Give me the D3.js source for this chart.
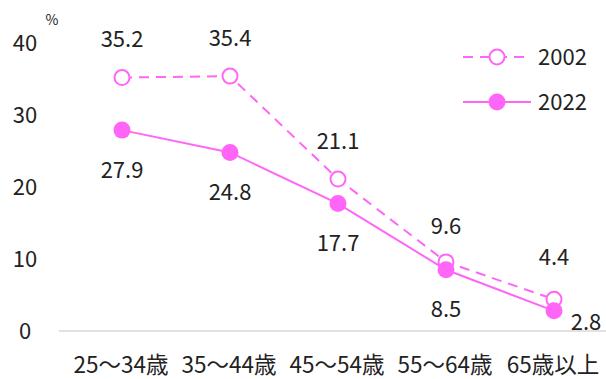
<!DOCTYPE html>
<html><head><meta charset="utf-8">
<script src="https://cdn.jsdelivr.net/npm/d3@7"></script>
<style>body{margin:0;background:#fff;}svg text{font-family:"Noto Sans CJK JP","Noto Sans",sans-serif;fill:#222;}</style>
</head><body><svg id="c" width="606" height="379"></svg>
<script>
const categories = ["25～34歳","35～44歳","45～54歳","55～64歳","65歳以上"];
const series2002 = [35.2, 35.4, 21.1, 9.6, 4.4];
const series2022 = [27.9, 24.8, 17.7, 8.5, 2.8];
const yTicks = [0, 10, 20, 30, 40];
const color = "#ff66f8";

const svg = d3.select("#c");
const x = d3.scalePoint().domain(categories).range([122, 554]);
const y = d3.scaleLinear().domain([0, 40]).range([331, 43]);

// baseline
svg.append("line").attr("x1", 59).attr("x2", 606).attr("y1", y(0)).attr("y2", y(0))
  .attr("stroke", "#d9d9d9").attr("stroke-width", 1.5);

// y tick labels
svg.selectAll(".yt").data(yTicks).enter().append("text")
  .attr("x", 25).attr("y", d => y(d)).attr("dy", "0.36em")
  .attr("text-anchor", "middle").attr("font-size", 22).text(d => d);
svg.append("text").attr("x", 52).attr("y", 25).attr("text-anchor", "middle")
  .attr("font-size", 14).text("%");

// x labels
svg.selectAll(".xt").data(categories).enter().append("text")
  .attr("x", d => x(d) - 1).attr("y", 365).attr("dy", "0.36em")
  .attr("text-anchor", "middle").attr("font-size", 22.5).text(d => d);

const line = d3.line().x((d, i) => x(categories[i])).y(d => y(d));

svg.append("path").datum(series2002).attr("d", line).attr("fill", "none")
  .attr("stroke", color).attr("stroke-width", 2).attr("stroke-dasharray", "10,7");
svg.append("path").datum(series2022).attr("d", line).attr("fill", "none")
  .attr("stroke", color).attr("stroke-width", 2);

svg.selectAll(".p02").data(series2002).enter().append("circle")
  .attr("cx", (d, i) => x(categories[i])).attr("cy", d => y(d)).attr("r", 7.5)
  .attr("fill", "#fff").attr("stroke", color).attr("stroke-width", 2);
svg.selectAll(".p22").data(series2022).enter().append("circle")
  .attr("cx", (d, i) => x(categories[i])).attr("cy", d => y(d)).attr("r", 8.5)
  .attr("fill", color);

// data labels
const off02 = [[0, -38], [0, -38], [0, -38], [0, -36], [0, -42]];
const off22 = [[0, 40], [0, 40], [0, 40], [0, 39], [32, 11]];
svg.selectAll(".l02").data(series2002).enter().append("text")
  .attr("x", (d, i) => x(categories[i]) + off02[i][0]).attr("y", (d, i) => y(d) + off02[i][1])
  .attr("dy", "0.36em").attr("text-anchor", "middle").attr("font-size", 22).text(d => d.toFixed(1));
svg.selectAll(".l22").data(series2022).enter().append("text")
  .attr("x", (d, i) => x(categories[i]) + off22[i][0]).attr("y", (d, i) => y(d) + off22[i][1])
  .attr("dy", "0.36em").attr("text-anchor", "middle").attr("font-size", 22).text(d => d.toFixed(1));

// legend
const lg = [{name: "2002", dash: "10,7", open: true, y: 57}, {name: "2022", dash: null, open: false, y: 102}];
lg.forEach(l => {
  svg.append("line").attr("x1", 463).attr("x2", 531).attr("y1", l.y).attr("y2", l.y)
    .attr("stroke", color).attr("stroke-width", 2).attr("stroke-dasharray", l.dash);
  svg.append("circle").attr("cx", 497).attr("cy", l.y).attr("r", l.open ? 7.5 : 8.5)
    .attr("fill", l.open ? "#fff" : color).attr("stroke", l.open ? color : "none").attr("stroke-width", 2);
  svg.append("text").attr("x", 538).attr("y", l.y).attr("dy", "0.36em")
    .attr("font-size", 22).text(l.name);
});
</script></body></html>
